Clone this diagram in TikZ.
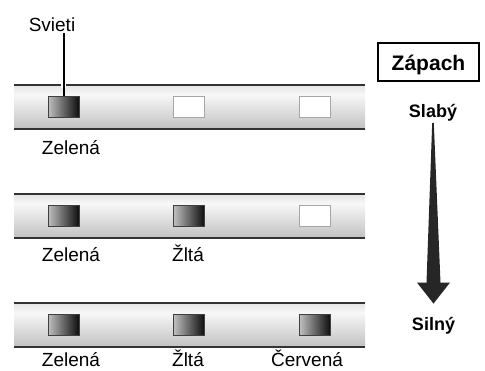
\documentclass[tikz,border=0pt]{standalone}
\usepackage{fontspec}
\setmainfont{Liberation Sans}
\usetikzlibrary{calc,positioning}

\pgfdeclareverticalshading{stripshade}{100bp}{color(0bp)=(black!38); color(64bp)=(black!3); color(100bp)=(black!28)}

\tikzset{
  lit/.style={draw=black!75, line width=1pt, left color=black!25, right color=black!95,
    minimum width=31pt, minimum height=21pt, inner sep=0pt},
  unlit/.style={draw=gray!70, line width=1pt, fill=white,
    minimum width=31pt, minimum height=21pt, inner sep=0pt},
  lbl/.style={font=\fontsize{19}{21}\selectfont, anchor=base, inner sep=0pt},
  head/.style={font=\fontsize{18}{20}\selectfont\bfseries, anchor=base, inner sep=0pt}
}

\begin{document}
\begin{tikzpicture}[x=1pt,y=-1pt]
\useasboundingbox (0,0) rectangle (485,370);

% listy s diodami
\foreach \r/\top/\base in {1/85/154,2/194/261,3/303/366.5}{
  \shade[shading=stripshade] (14,\top) rectangle (365,\top+44);
  \draw[black!80, line width=1.5pt] (14,\top) -- (365,\top) (14,\top+44) -- (365,\top+44);
  \foreach \c/\x/\lx/\t in {1/63.5/71/Zelená,2/189/188/Žltá,3/315/307/Červená}{
    \ifnum\c>\r
      \node[unlit] (led\r\c) at (\x,\top+22) {};
    \else
      \node[lit] (led\r\c) at (\x,\top+22) {};
      \node[lbl] (lbl\r\c) at (\lx,\base) {\t};
    \fi
  }
}

% svieti
\node[lbl] (svieti) at (52,31) {Svieti};
\draw[white, line width=5pt] ([yshift=8pt]led11.north) -- ([yshift=15pt]led11.north);
\draw[line width=2pt] ([yshift=-2pt]svieti.south -| led11.north) -- (led11.north);

% zapach
\node[draw, line width=2pt, minimum width=101pt, minimum height=38pt, inner sep=0pt,
  text height=17.4pt, text depth=0pt, font=\fontsize{21}{23}\selectfont\bfseries] (zapach) at (428.5,62) {Zápach};
\node[head] (slaby) at (433,117) {Slabý};
\node[head] (silny) at (433.5,330) {Silný};

\coordinate (top) at ($(slaby.south)+(0,2)$); %hore
\coordinate (tip) at ($(silny.north)+(0,-13)$); %hrot
\fill[black!85] ($(top)+(-0.8,0)$) -- ($(top)+(0.8,0)$) -- ($(tip)+(7,-21)$) -- ($(tip)+(16.5,-21)$)
  -- (tip) -- ($(tip)+(-16.5,-21)$) -- ($(tip)+(-7,-21)$) -- cycle;
\end{tikzpicture}
\end{document}
